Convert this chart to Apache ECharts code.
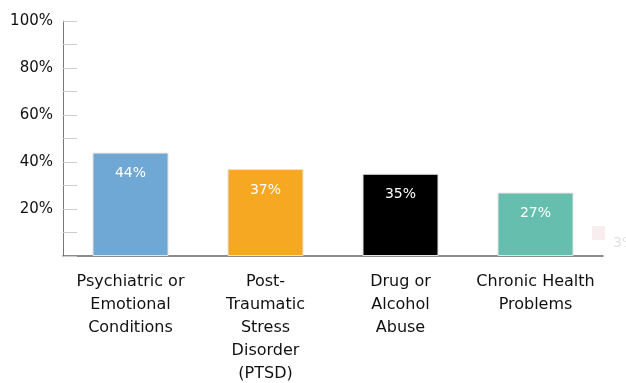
<!DOCTYPE html>
<html>
<head>
<meta charset="utf-8">
<script src="https://cdn.jsdelivr.net/npm/echarts@6/dist/echarts.min.js"></script>
<style>
  html, body { margin: 0; padding: 0; background: #fff; }
  #chart { width: 626px; height: 383px; }
</style>
</head>
<body>
<div id="chart"></div>
<script>
const categories = [
  'Psychiatric or\nEmotional\nConditions',
  'Post-\nTraumatic\nStress\nDisorder\n(PTSD)',
  'Drug or\nAlcohol\nAbuse',
  'Chronic Health\nProblems'
];
const values = [44, 37, 35, 27];
const barColors = ['#6fa7d5', '#f7a823', '#000000', '#66bfae'];
const yTicks = [0, 20, 40, 60, 80, 100];

const font = '"DejaVu Sans", sans-serif';

let chart = echarts.init(document.getElementById('chart'));
let options = {
  animation: false,
  grid: { left: 63, right: 23, top: 21, bottom: 127, outerBoundsMode: 'none', containLabel: false },
  xAxis: {
    type: 'category',
    data: categories,
    axisLine: { lineStyle: { color: '#666', width: 1.5 } },
    axisTick: { show: false },
    axisLabel: {
      interval: 0,
      color: '#111',
      fontFamily: font,
      fontSize: 16,
      lineHeight: 23,
      margin: 14
    }
  },
  yAxis: {
    type: 'value',
    min: yTicks[0],
    max: yTicks[yTicks.length - 1],
    interval: 20,
    axisLine: { show: true, lineStyle: { color: '#777', width: 1 } },
    axisTick: { show: true, inside: true, length: 14, lineStyle: { color: '#ccc' } },
    minorTick: { show: true, splitNumber: 2, length: 14, lineStyle: { color: '#ccc' } },
    splitLine: { show: false },
    axisLabel: {
      color: '#111',
      fontFamily: font,
      fontSize: 15,
      margin: 10,
      formatter: v => (v === 0 ? '' : v + '%')
    }
  },
  series: [{
    type: 'bar',
    barWidth: 76,
    data: values.map((v, i) => ({
      value: v,
      itemStyle: { color: barColors[i], borderColor: '#e4e4e4', borderWidth: 1 }
    })),
    label: {
      show: true,
      position: 'insideTop',
      distance: 14,
      color: '#fff',
      fontFamily: font,
      fontSize: 14,
      formatter: p => p.value + '%'
    }
  }],
  graphic: [
    { type: 'rect', left: 592, top: 226, shape: { width: 13, height: 14 }, style: { fill: '#f8eef0' } },
    { type: 'text', left: 613, top: 236, style: { text: '3%', fill: '#e2e2e2', font: '14px "DejaVu Sans"' } }
  ]
};
chart.setOption(options);
window.addEventListener('resize', () => { chart.resize(); });
</script>
</body>
</html>
